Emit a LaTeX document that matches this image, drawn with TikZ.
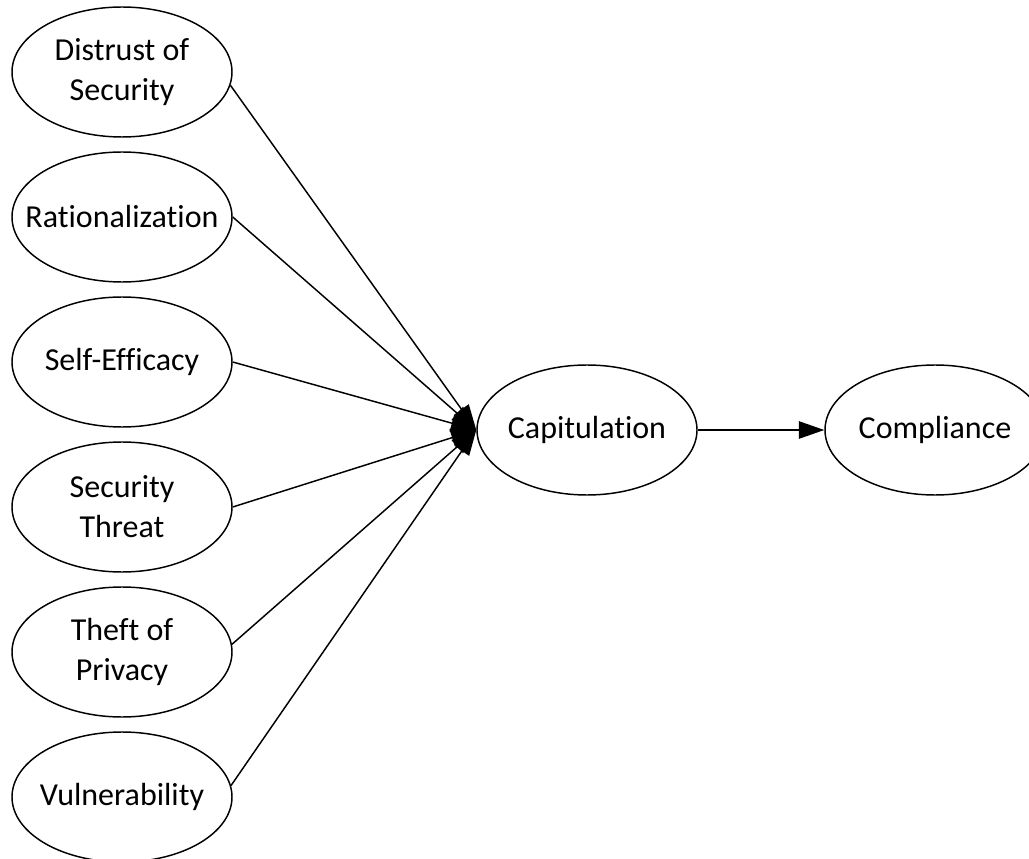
\documentclass[tikz,border=0pt]{standalone}
\usepackage{fontspec}
\setmainfont{Carlito}[Ligatures=NoCommon]
\usetikzlibrary{arrows.meta, shapes.geometric}

\begin{document}
\begin{tikzpicture}[x=0.75pt, y=-0.75pt,
    factor/.style={draw, ellipse, line width=1.1pt, minimum width=165pt, minimum height=97.5pt, inner sep=0pt},
    txt/.style={align=center, font=\fontsize{24}{30}\selectfont},
    link/.style={line width=1.1pt, -{Triangle[length=19pt, width=13pt]}}]
    \useasboundingbox (0,0) rectangle (1029,859);

    % Antecedents
    \node[factor, label={[txt]center:Distrust of\\Security}] (distrust) at (122,72) {};
    \node[factor, label={[txt]center:Rationalization}] (ration) at (122,217) {};
    \node[factor, label={[txt]center:Self-Efficacy}] (selfeff) at (122,362) {};
    \node[factor, label={[txt]center:Security\\Threat}] (threat) at (122,507) {};
    \node[factor, label={[txt]center:Theft of\\Privacy}] (theft) at (122,652) {};
    \node[factor, label={[txt]center:Vulnerability}] (vuln) at (122,797) {};

    % Outcome
    \node[factor, label={[txt]center:Capitulation}] (capit) at (587,430) {};
    \node[factor, label={[txt]center:Compliance}] (compl) at (935,430) {};

    % Paths
    \draw[link] (distrust.-7) -- (capit.west);
    \draw[link] (ration.east) -- (capit.west);
    \draw[link] (selfeff.east) -- (capit.west);
    \draw[link] (threat.east) -- (capit.west);
    \draw[link] (theft.4) -- (capit.west);
    \draw[link] (vuln.6) -- (capit.west);
    \draw[link] (capit.east) -- (compl.west);
\end{tikzpicture}
\end{document}
